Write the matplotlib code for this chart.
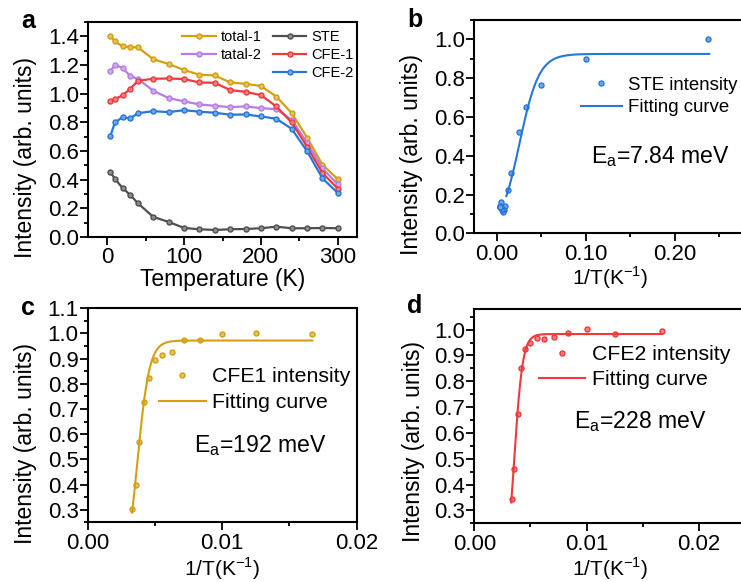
import numpy as np
import matplotlib
matplotlib.use("Agg")
import matplotlib.pyplot as plt
from matplotlib.lines import Line2D
from matplotlib.ticker import MultipleLocator, FormatStrFormatter

plt.rcParams['font.family'] = ['Liberation Sans', 'DejaVu Sans']
plt.rcParams['mathtext.fontset'] = 'custom'
plt.rcParams['mathtext.rm'] = 'Liberation Sans'
plt.rcParams['axes.linewidth'] = 1.5

# ---- (a) integrated intensities vs temperature ----
temperature = [4.2, 10, 20, 30, 40, 60, 80, 100, 120, 140, 160, 180, 200, 220, 240, 260, 280, 300]
total_1 = [1.40, 1.365, 1.33, 1.325, 1.323, 1.24, 1.207, 1.165, 1.132, 1.127, 1.078, 1.069, 1.053,
           0.98, 0.864, 0.694, 0.505, 0.403]
tatal_2 = [1.155, 1.202, 1.179, 1.123, 1.102, 1.02, 0.969, 0.946, 0.925, 0.915, 0.906, 0.911, 0.899,
           0.892, 0.818, 0.659, 0.478, 0.368]
cfe_1 = [0.95, 0.962, 0.988, 1.034, 1.09, 1.104, 1.106, 1.102, 1.078, 1.076, 1.025, 1.013, 0.99,
         0.911, 0.799, 0.631, 0.447, 0.338]
cfe_2 = [0.706, 0.799, 0.836, 0.827, 0.864, 0.878, 0.871, 0.885, 0.874, 0.867, 0.853, 0.855, 0.841,
         0.825, 0.755, 0.599, 0.41, 0.307]
ste = [0.452, 0.405, 0.342, 0.293, 0.235, 0.14, 0.105, 0.063, 0.054, 0.049, 0.054, 0.056, 0.061,
       0.072, 0.061, 0.061, 0.063, 0.061]

# ---- (b) STE normalised intensity vs 1/T ----
inv_t_ste = [0.238, 0.1, 0.05, 0.0333, 0.025, 0.0167, 0.0125, 0.01, 0.00833, 0.00714, 0.00625,
             0.00556, 0.005, 0.00455, 0.00417, 0.00385, 0.00357, 0.00333]
ste_norm = [1.0, 0.897, 0.763, 0.649, 0.522, 0.309, 0.223, 0.139, 0.12, 0.108, 0.12, 0.124, 0.135,
            0.159, 0.135, 0.135, 0.139, 0.135]

# ---- (c), (d) CFE normalised intensities vs 1/T ----
inv_t_cfe = [0.00333, 0.00357, 0.00385, 0.00417, 0.00455, 0.005, 0.00556, 0.00625, 0.00714,
             0.00833, 0.01, 0.0125, 0.0167]
cfe1_norm = [0.304, 0.397, 0.569, 0.728, 0.824, 0.894, 0.915, 0.926, 0.974, 0.976, 0.996, 1.0, 0.999]
cfe2_norm = [0.346, 0.461, 0.675, 0.852, 0.926, 0.948, 0.968, 0.962, 0.973, 0.987, 1.001, 0.984, 0.995]

# Arrhenius fit parameters: activation energy (meV), plateau, prefactor, fitted 1/T span
K_B = 0.08617  # meV / K
fit_ste = dict(ea=7.84, i0=0.925, a=10.4, lo=0.011, hi=0.239)
fit_cfe1 = dict(ea=192, i0=0.972, a=3700, lo=0.0033, hi=0.0167)
fit_cfe2 = dict(ea=228, i0=0.983, a=11900, lo=0.00329, hi=0.0167)


def arrhenius(p):
    x = np.linspace(p['lo'], p['hi'], 400)
    return x, p['i0'] / (1 + p['a'] * np.exp(-p['ea'] / K_B * x))


GOLD = '#D4A010'
PURPLE = '#B77DE2'
RED = '#F0393C'
BLUE = '#2677DA'
GRAY = '#4F4F4F'


def lighten(c, f=0.35):
    r, g, b = matplotlib.colors.to_rgb(c)
    return (r + (1 - r) * f, g + (1 - g) * f, b + (1 - b) * f)


W, H = 741, 582
fig = plt.figure(figsize=(W / 100, H / 100), dpi=100)


def box(l, t, r, b):
    return [l / W, 1 - b / H, (r - l) / W, (b - t) / H]


ax_a = fig.add_axes(box(88, 22, 357, 237))
ax_b = fig.add_axes(box(474.3, 20, 745.8, 233.3))
ax_c = fig.add_axes(box(87.7, 308.3, 356.7, 522.3))
ax_d = fig.add_axes(box(474.3, 309, 746, 523.3))

TICK_FS = 16
for ax in (ax_a, ax_b, ax_c, ax_d):
    ax.tick_params(which='major', direction='out', length=5.5, width=1.3, labelsize=TICK_FS)
    ax.tick_params(which='minor', direction='out', length=3, width=1.3)
    ax.tick_params(axis='x', which='major', pad=2)
    ax.tick_params(axis='y', which='major', pad=1)
    ax.set_ylabel('Intensity (arb. units)', fontsize=16.5)

# y-label anchors (axes fraction), label sits a little below the axis centre
ax_a.yaxis.set_label_coords(-0.19, 0.37)
ax_b.yaxis.set_label_coords(-0.19, 0.37)
ax_c.yaxis.set_label_coords(-0.19, 0.37)
ax_d.yaxis.set_label_coords(-0.18, 0.38)

# panel a
series = [(total_1, GOLD, 'total-1'), (tatal_2, PURPLE, 'tatal-2'), (cfe_1, RED, 'CFE-1'),
          (cfe_2, BLUE, 'CFE-2'), (ste, GRAY, 'STE')]
handles = {}
for vals, col, lab in series:
    h, = ax_a.plot(temperature, vals, '-o', color=col, lw=1.6, ms=3.6, mfc=lighten(col), mec=col,
                   mew=1.0, label=lab)
    handles[lab] = h
blank = Line2D([], [], linestyle='none', marker=None)
ax_a.legend([handles['total-1'], handles['tatal-2'], blank, handles['STE'], handles['CFE-1'],
             handles['CFE-2']],
            ['total-1', 'tatal-2', '', 'STE', 'CFE-1', 'CFE-2'],
            ncol=2, frameon=False, fontsize=10.5, numpoints=1, handlelength=2.3,
            handletextpad=0.35, columnspacing=0.75, labelspacing=0.3,
            loc='upper right', bbox_to_anchor=(1.02, 1.005), borderaxespad=0.2)
ax_a.set_xlim(-25, 325)
ax_a.set_ylim(0, 1.5)
ax_a.xaxis.set_major_locator(MultipleLocator(100))
ax_a.xaxis.set_minor_locator(MultipleLocator(50))
ax_a.yaxis.set_major_locator(MultipleLocator(0.2))
ax_a.yaxis.set_minor_locator(MultipleLocator(0.1))
ax_a.yaxis.set_major_formatter(FormatStrFormatter('%.1f'))
ax_a.set_xlabel('Temperature (K)', fontsize=16.5, labelpad=0)


def fit_panel(ax, xs, ys, p, col, point_label, ea_text, legend_anchor, ea_pos, leg_fs, spacing,
              xlabel_y):
    ax.plot(xs, ys, 'o', color=col, ms=3.6, mfc=lighten(col), mec=col, mew=1.0, label=point_label)
    fx, fy = arrhenius(p)
    ax.plot(fx, fy, '-', color=col, lw=1.5, label='Fitting curve')
    ax.legend(frameon=False, fontsize=leg_fs, numpoints=1, handlelength=2.2, handletextpad=0.3,
              labelspacing=spacing, loc='upper left', bbox_to_anchor=legend_anchor,
              borderaxespad=0, borderpad=0)
    ax.text(ea_pos[0], ea_pos[1], ea_text, transform=ax.transAxes, fontsize=16.6, va='baseline')
    ax.set_xlabel('1/T(K$^{\\mathregular{-1}}$)', fontsize=15)
    ax.xaxis.label.set_va('baseline')
    ax.xaxis.set_label_coords(0.5, xlabel_y)


fit_panel(ax_b, inv_t_ste, ste_norm, fit_ste, BLUE, 'STE intensity',
          'E$_\\mathregular{a}$=7.84 meV', (0.393, 0.735), (0.43, 0.33), 13.4, 0.3, -0.243)
ax_b.set_xlim(-0.025, 0.28)
ax_b.set_ylim(0, 1.1)
ax_b.xaxis.set_major_locator(MultipleLocator(0.1))
ax_b.xaxis.set_minor_locator(MultipleLocator(0.05))
ax_b.xaxis.set_major_formatter(FormatStrFormatter('%.2f'))
ax_b.yaxis.set_major_locator(MultipleLocator(0.2))
ax_b.yaxis.set_minor_locator(MultipleLocator(0.1))
ax_b.yaxis.set_major_formatter(FormatStrFormatter('%.1f'))

fit_panel(ax_c, inv_t_cfe, cfe1_norm, fit_cfe1, GOLD, 'CFE1 intensity',
          'E$_\\mathregular{a}$=192 meV', (0.265, 0.725), (0.395, 0.328), 15.3, 0.32, -0.248)
ax_c.set_xlim(0, 0.02)
ax_c.set_ylim(0.25, 1.1)

fit_panel(ax_d, inv_t_cfe, cfe2_norm, fit_cfe2, RED, 'CFE2 intensity',
          'E$_\\mathregular{a}$=228 meV', (0.237, 0.83), (0.367, 0.445), 15.3, 0.26, -0.243)
ax_d.set_xlim(0, 0.0242)
ax_d.set_ylim(0.25, 1.08)

for ax in (ax_c, ax_d):
    ax.xaxis.set_major_locator(MultipleLocator(0.01))
    ax.xaxis.set_minor_locator(MultipleLocator(0.005))
    ax.xaxis.set_major_formatter(FormatStrFormatter('%.2f'))
    ax.yaxis.set_major_locator(MultipleLocator(0.1))
    ax.yaxis.set_minor_locator(MultipleLocator(0.05))
    ax.yaxis.set_major_formatter(FormatStrFormatter('%.1f'))

# panel letters
for lab, x, y in [('a', 21, 28), ('b', 407, 27), ('c', 21, 315), ('d', 407, 313)]:
    fig.text(x / W, 1 - y / H, lab, fontsize=18, fontweight='bold', va='baseline')

fig.savefig('out.png', dpi=100)
